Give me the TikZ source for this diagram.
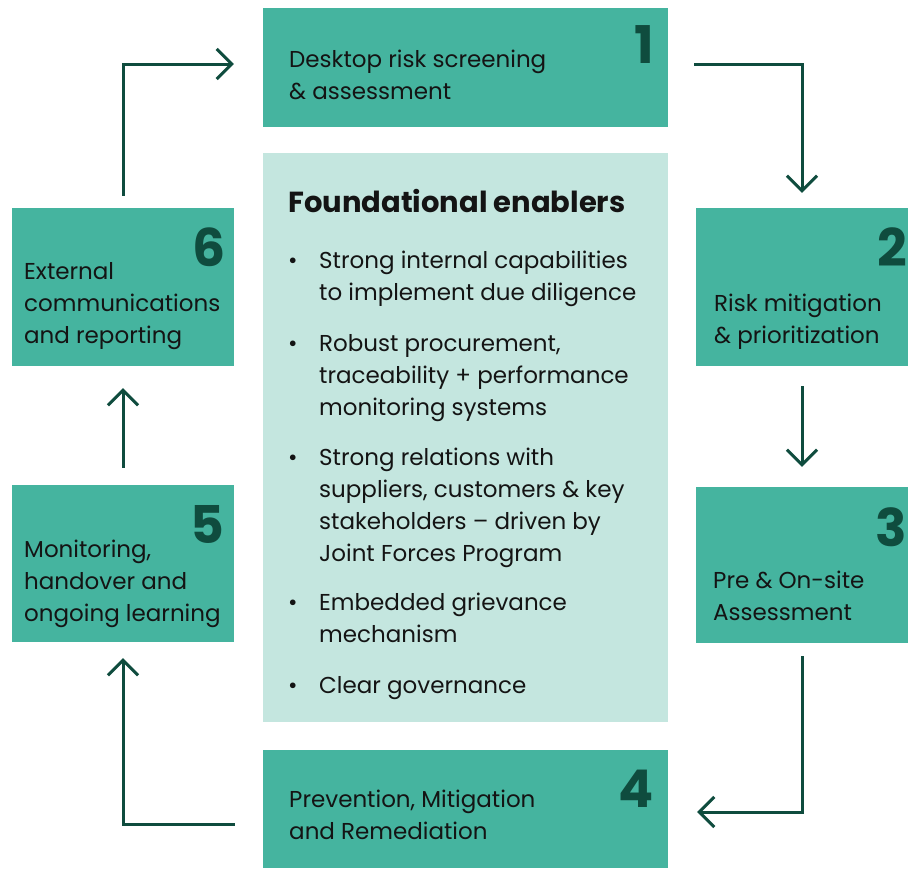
\documentclass[tikz,border=0pt]{standalone}
\usepackage{fontspec}
\setmainfont{Poppins}
\usetikzlibrary{arrows.meta}
\definecolor{stepfill}{HTML}{45B49F}
\definecolor{mint}{HTML}{C4E6DF}
\definecolor{pine}{HTML}{0F4C3E}
\definecolor{ink}{HTML}{141414}

\newcommand{\twoline}[2]{\begin{tabular}{@{}l@{}}#1\\#2\end{tabular}}
\newcommand{\threeline}[3]{\begin{tabular}{@{}l@{}}#1\\#2\\#3\end{tabular}}
\newcommand{\bulletitem}[1]{\begin{tabular}{@{}p{31pt}@{}l@{}}\textbullet & #1\end{tabular}}

\begin{document}
\begin{tikzpicture}[x=1pt,y=-1pt,
  stepbox/.style={fill=stepfill, draw=none, inner sep=0pt},
  corebox/.style={fill=mint, draw=none, inner sep=0pt},
  steptext/.style={anchor=west, inner sep=0pt, text=ink,
    font=\fontsize{23}{32}\selectfont},
  stepnum/.style={anchor=north east, inner sep=0pt, text=pine,
    font=\fontsize{52}{52}\selectfont\bfseries},
  heading/.style={anchor=west, inner sep=0pt, text=ink,
    font=\fontsize{29}{32}\selectfont\bfseries},
  flow/.style={draw=pine, line width=3pt,
    -{Straight Barb[length=15pt,width=30pt]}}]

\useasboundingbox (0,0) rectangle (908,868);

% step boxes
\node[stepbox, minimum width=405pt, minimum height=119pt] (b1) at (465.5,67.5) {};
\node[stepbox, minimum width=212pt, minimum height=158pt] (b2) at (802,287) {};
\node[stepbox, minimum width=212pt, minimum height=156pt] (b3) at (802,565) {};
\node[stepbox, minimum width=405pt, minimum height=118pt] (b4) at (465.5,809) {};
\node[stepbox, minimum width=222pt, minimum height=157pt] (b5) at (123,563.5) {};
\node[stepbox, minimum width=222pt, minimum height=158pt] (b6) at (123,287) {};

% central panel
\node[corebox, minimum width=405pt, minimum height=569pt] (core) at (465.5,437.5) {};

% step numbers
\node[stepnum] (n1) at (654,25) {1};
\node[stepnum] (n2) at (907,228) {2};
\node[stepnum] (n3) at (907,507) {3};
\node[stepnum] (n4) at (654,770) {4};
\node[stepnum] (n5) at (224,505) {5};
\node[stepnum] (n6) at (226,228) {6};

% step labels
\node[steptext] (t1) at (289,77.5) {\twoline{Desktop risk screening}{\& assessment}};
\node[steptext] (t2) at (714,321.5) {\twoline{Risk mitigation}{\& prioritization}};
\node[steptext] (t3) at (713,598.5) {\twoline{Pre \& On-site}{Assessment}};
\node[steptext] (t4) at (289,817.5) {\twoline{Prevention, Mitigation}{and Remediation}};
\node[steptext] (t5) at (24,583) {\threeline{Monitoring,}{handover and}{ongoing learning}};
\node[steptext] (t6) at (24,305) {\threeline{External}{communications}{and reporting}};

% foundational enablers
\node[heading] (h) at (288,201) {Foundational enablers};
\node[steptext] (e1) at (288,278) {\bulletitem{Strong internal capabilities\\ & to implement due diligence}};
\node[steptext] (e2) at (288,377) {\bulletitem{Robust procurement,\\ & traceability + performance\\ & monitoring systems}};
\node[steptext] (e3) at (288,507) {\bulletitem{Strong relations with\\ & suppliers, customers \& key\\ & stakeholders – driven by\\ & Joint Forces Program}};
\node[steptext] (e4) at (288,620) {\bulletitem{Embedded grievance\\ & mechanism}};
\node[steptext] (e5) at (288,687) {\bulletitem{Clear governance}};

% cycle connectors
\draw[flow] ([xshift=26pt,yshift=3.5pt]b1.east) -| ([yshift=15pt]b2.north);
\draw[flow] ([yshift=-20pt]b2.south) -- ([yshift=20pt]b3.north);
\draw[flow] ([yshift=-13pt]b3.south) |- ([xshift=29pt,yshift=-3pt]b4.east);
\draw[flow] ([xshift=-28pt,yshift=-15pt]b4.west) -| ([yshift=-16pt]b5.south);
\draw[flow] ([yshift=17pt]b5.north) -- ([yshift=-22pt]b6.south);
\draw[flow] ([yshift=12pt]b6.north) |- ([xshift=-29pt,yshift=3.5pt]b1.west);

\end{tikzpicture}
\end{document}
